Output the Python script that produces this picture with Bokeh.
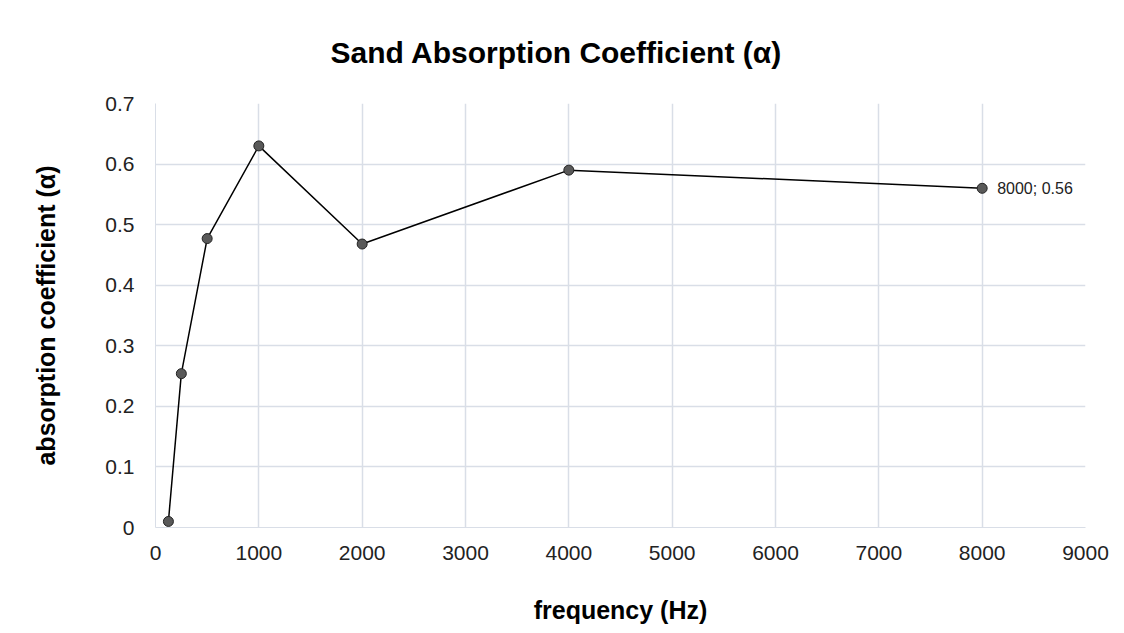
from bokeh.plotting import figure
from bokeh.models import FixedTicker, NumeralTickFormatter, Range1d, Label, Title
from bokeh.embed import file_html
from bokeh.resources import INLINE

frequency = [125, 250, 500, 1000, 2000, 4000, 8000]
alpha = [0.01, 0.254, 0.477, 0.63, 0.468, 0.59, 0.56]
x_ticks = [0, 1000, 2000, 3000, 4000, 5000, 6000, 7000, 8000, 9000]
y_ticks = [0, 0.1, 0.2, 0.3, 0.4, 0.5, 0.6, 0.7]
title_text = "Sand Absorption Coefficient (α)"
x_label = "frequency (Hz)"
y_label = "absorption coefficient (α)"

FONT = "Liberation Sans"
GRID = "#d9dee7"

p = figure(width=1124, height=633, output_backend="svg", toolbar_location=None,
           x_range=Range1d(0, 9000), y_range=Range1d(0, 0.7),
           min_border_left=155, min_border_right=39, min_border_bottom=106,
           min_border_top=103)
p.title = Title(text=title_text, align="left", offset=175, vertical_align="top",
                text_font=FONT, text_font_size="30px", text_font_style="bold",
                text_color="black", standoff=66)
p.outline_line_color = None

p.line(frequency, alpha, line_color="black", line_width=1.5)
p.scatter(frequency, alpha, size=10, fill_color="#595959", line_color="#222222", line_width=1)

p.add_layout(Label(x=frequency[-1], y=alpha[-1], text=f"{frequency[-1]}; {alpha[-1]}",
                   x_offset=15, text_baseline="middle", text_font=FONT,
                   text_font_size="16px", text_color="#222222"))

for ax in (p.xaxis[0], p.yaxis[0]):
    ax.axis_line_color = GRID
    ax.major_tick_line_color = None
    ax.minor_tick_line_color = None
    ax.major_label_text_font = FONT
    ax.major_label_text_font_size = "21px"
    ax.major_label_text_color = "#222222"
    ax.axis_label_text_font = FONT
    ax.axis_label_text_font_size = "25px"
    ax.axis_label_text_font_style = "bold"
    ax.axis_label_text_color = "black"

p.xaxis.ticker = FixedTicker(ticks=x_ticks)
p.yaxis.ticker = FixedTicker(ticks=y_ticks)
p.yaxis.formatter = NumeralTickFormatter(format="0.[0]")
p.xaxis.axis_label = x_label
p.yaxis.axis_label = y_label
p.xaxis.major_label_standoff = 12
p.xaxis.axis_label_standoff = 33
p.yaxis.major_label_standoff = 15
p.yaxis.axis_label_standoff = 42

p.xgrid.grid_line_color = GRID
p.ygrid.grid_line_color = GRID
p.xgrid.grid_line_width = 1.5
p.ygrid.grid_line_width = 1.5

open("out.html", "w").write(file_html(p, INLINE))
